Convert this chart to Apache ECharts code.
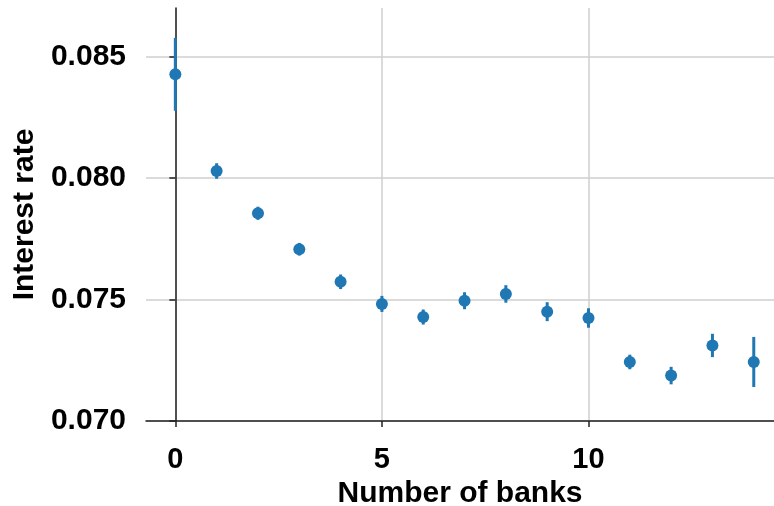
<!DOCTYPE html>
<html>
<head>
<meta charset="utf-8">
<script src="https://cdn.jsdelivr.net/npm/echarts@6/dist/echarts.min.js"></script>
<style>
html,body{margin:0;padding:0;background:#fff;}
#chart{width:774px;height:506px;}
</style>
</head>
<body>
<div id="chart"></div>
<script>
const banks = [0,1,2,3,4,5,6,7,8,9,10,11,12,13,14];
const rates = [0.08427,0.08029,0.07855,0.07707,0.07573,0.07482,0.07428,0.07495,0.07523,0.07450,0.07424,0.07243,0.07187,0.07311,0.07243];
const errs  = [0.00150,0.00032,0.00027,0.00026,0.00030,0.00033,0.00031,0.00035,0.00036,0.00039,0.00040,0.00030,0.00036,0.00048,0.00103];
const xTicks = [0,5,10];
const yTicks = [0.070,0.075,0.080,0.085];

const font = '"Liberation Sans", Arial, Helvetica, sans-serif';
const blue = '#1f77b4';

const chart = echarts.init(document.getElementById('chart'), null, {renderer:'canvas'});
const pts = banks.map((b,i)=>[b, rates[i]]);
const bars = banks.map((b,i)=>[b, rates[i]-errs[i], rates[i]+errs[i]]);

chart.setOption({
  animation:false,
  backgroundColor:'#fff',
  grid:{left:146, right:0, top:8, bottom:85, containLabel:false, outerBoundsMode:'none'},
  xAxis:{
    type:'value', min:-0.71, max:14.49,
    name:'Number of banks', nameLocation:'middle', nameGap:58,
    nameTextStyle:{fontFamily:font, fontWeight:'bold', fontSize:30, color:'#000'},
    axisLine:{show:true, lineStyle:{color:'#222', width:1.5}},
    axisTick:{show:true, inside:false, length:6, customValues:xTicks, lineStyle:{color:'#222', width:1.5}},
    axisLabel:{customValues:xTicks, margin:24, fontFamily:font, fontWeight:'bold', fontSize:29, color:'#000'},
    splitLine:{show:true, lineStyle:{color:'#cfcfcf', width:1.5}}
  },
  yAxis:{
    type:'value', min:0.070, max:0.087,
    name:'Interest rate', nameLocation:'middle', nameGap:106, nameRotate:90,
    nameTextStyle:{fontFamily:font, fontWeight:'bold', fontSize:30, color:'#000'},
    axisLine:{show:true, lineStyle:{color:'#222', width:1.5}},
    axisTick:{show:true, inside:false, length:6, customValues:yTicks, lineStyle:{color:'#222', width:1.5}},
    axisLabel:{customValues:yTicks, margin:20, fontFamily:font, fontWeight:'bold', fontSize:30, color:'#000',
      formatter:v=>v.toFixed(3)},
    splitLine:{show:true, lineStyle:{color:'#cfcfcf', width:1.5}}
  },
  series:[
    {
      type:'custom',
      data:bars,
      encode:{x:0, y:[1,2]},
      renderItem:function(params, api){
        const p1 = api.coord([api.value(0), api.value(1)]);
        const p2 = api.coord([api.value(0), api.value(2)]);
        return {type:'line', shape:{x1:p1[0], y1:p1[1], x2:p2[0], y2:p2[1]},
          style:{stroke:blue, lineWidth:3}};
      },
      z:2
    },
    {
      type:'scatter', data:pts, symbol:'circle', symbolSize:12,
      itemStyle:{color:blue, opacity:1}, z:3
    }
  ]
});
</script>
</body>
</html>
